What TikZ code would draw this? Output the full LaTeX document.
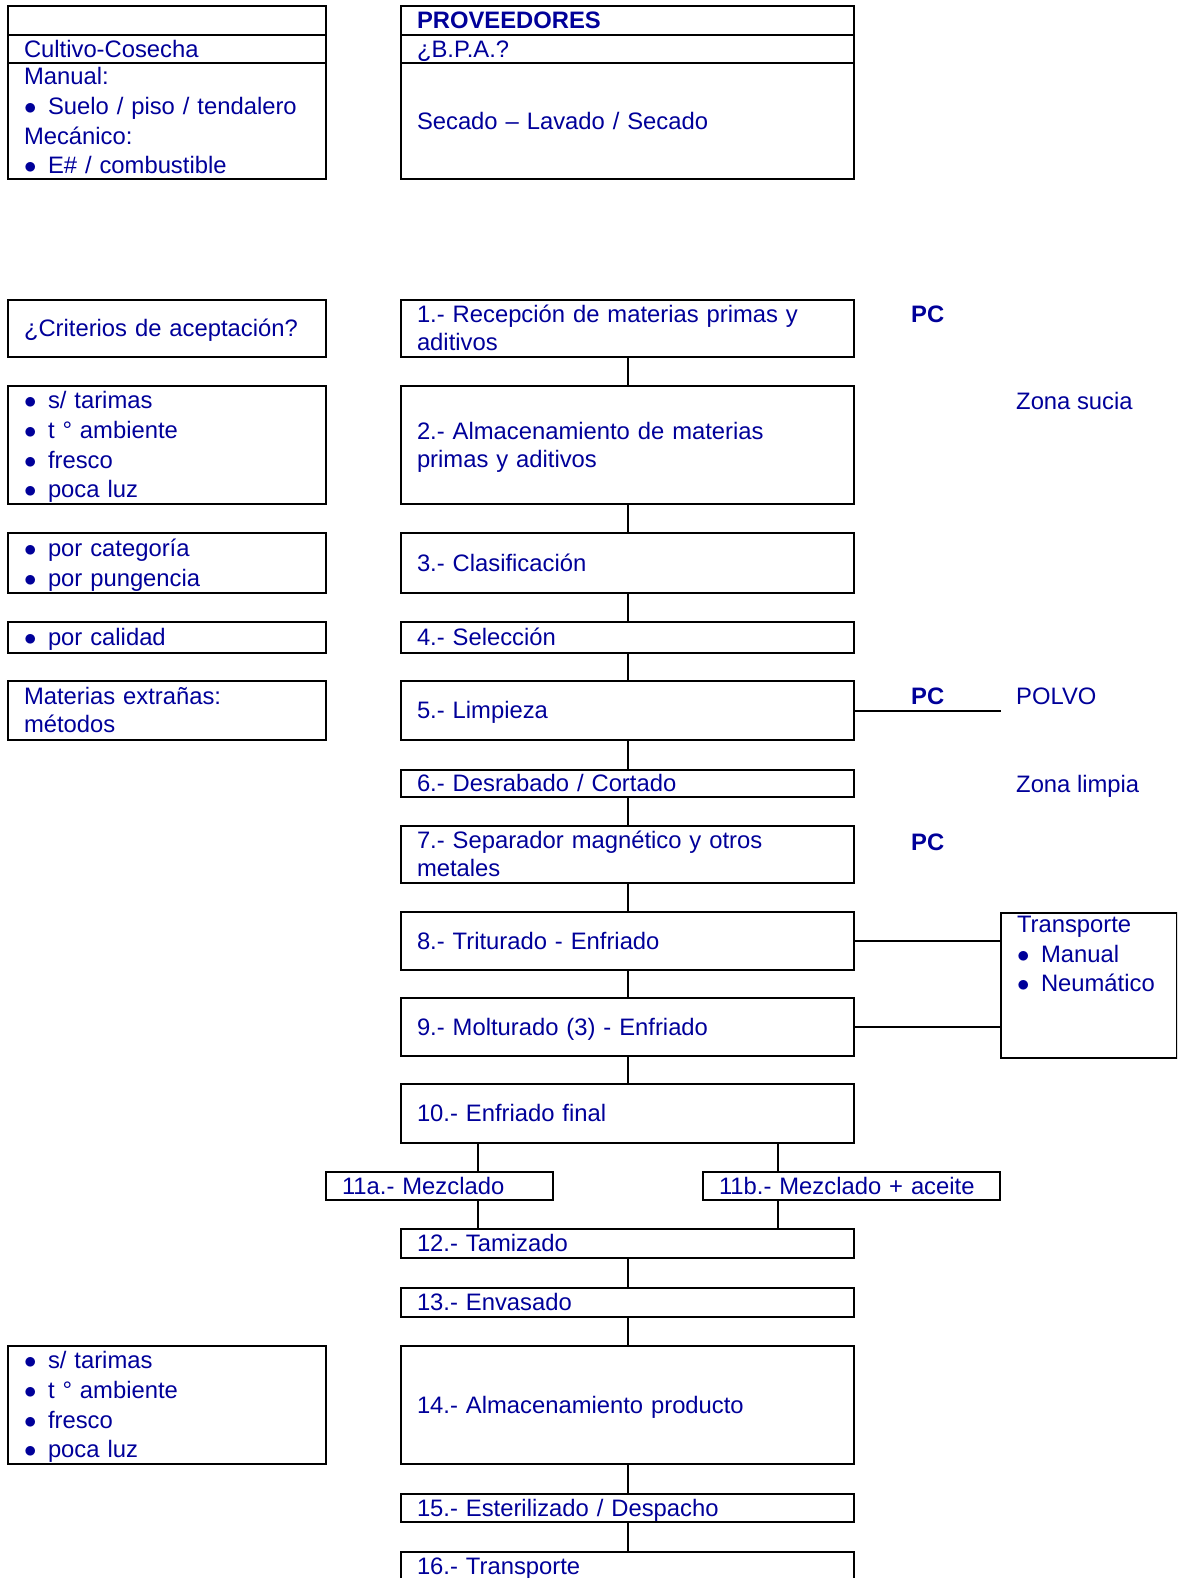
\documentclass[tikz,border=0pt]{standalone}
\usepackage{fontspec}
\setmainfont{Liberation Sans}
\definecolor{flujoazul}{HTML}{000099}
\newcommand{\itm}[1]{\makebox[24pt][l]{$\bullet$}#1}
\newcommand{\linea}{\rule[-5pt]{0pt}{26.5pt}}
\tikzset{
  every node/.style={font=\fontsize{23.8}{28.3}\selectfont, text=flujoazul},
  etapa/.style={draw=black, line width=2pt, inner xsep=16pt, inner ysep=0pt, align=left, text width=421pt,
    execute at begin node=\linea, execute at end node=\linea},
  nota/.style={draw=black, line width=2pt, inner xsep=16pt, inner ysep=0pt, align=left, text width=286pt,
    execute at begin node=\linea, execute at end node=\linea},
  lista/.style={font=\fontsize{23.8}{29.7}\selectfont},
  marca/.style={anchor=base west, inner sep=0pt, font=\fontsize{23.8}{28.3}\selectfont\bfseries},
  zona/.style={anchor=base west, inner sep=0pt},
  enlace/.style={line width=2pt}
}

\begin{document}
\begin{tikzpicture}[x=1pt, y=-1pt]
\useasboundingbox (0,0) rectangle (1177,1578);
\clip (0,0) rectangle (1177,1578);

\node[nota, minimum height=29pt] (cult0) at (167,20.5) {};
\node[nota, minimum height=28pt] (cult1) at (167,49) {Cultivo-Cosecha};
\node[nota, lista, minimum height=116pt] (cult2) at (167,121) {Manual:\\\itm{Suelo / piso / tendalero}\\Mecánico:\\\itm{E\# / combustible}};

\node[etapa, minimum height=29pt, font=\fontsize{23.8}{28.3}\selectfont\bfseries] (prov0) at (627.5,20.5) {PROVEEDORES};
\node[etapa, minimum height=28pt] (prov1) at (627.5,49) {¿B.P.A.?};
\node[etapa, minimum height=116pt] (prov2) at (627.5,121) {Secado – Lavado / Secado};

\node[nota, minimum height=57pt] (n1) at (167,328.5) {¿Criterios de aceptación?};
\node[nota, lista, minimum height=118pt] (n2) at (167,445) {\itm{s/ tarimas}\\\itm{t ° ambiente}\\\itm{fresco}\\\itm{poca luz}};
\node[nota, lista, minimum height=60pt] (n3) at (167,563) {\itm{por categoría}\\\itm{por pungencia}};
\node[nota, minimum height=31pt] (n4) at (167,637.5) {\itm{por calidad}};
\node[nota, minimum height=59pt] (n5) at (167,710.5) {Materias extrañas:\\métodos};
\node[nota, lista, minimum height=118pt] (n14) at (167,1405) {\itm{s/ tarimas}\\\itm{t ° ambiente}\\\itm{fresco}\\\itm{poca luz}};

\node[etapa, minimum height=57pt] (p1) at (627.5,328.5) {1.- Recepción de materias primas y\\aditivos};
\node[etapa, minimum height=118pt] (p2) at (627.5,445) {2.- Almacenamiento de materias\\primas y aditivos};
\node[etapa, minimum height=60pt] (p3) at (627.5,563) {3.- Clasificación};
\node[etapa, minimum height=31pt] (p4) at (627.5,637.5) {4.- Selección};
\node[etapa, minimum height=59pt] (p5) at (627.5,710.5) {5.- Limpieza};
\node[etapa, minimum height=27pt] (p6) at (627.5,783.5) {6.- Desrabado / Cortado};
\node[etapa, minimum height=57pt] (p7) at (627.5,854.5) {7.- Separador magnético y otros\\metales};
\node[etapa, minimum height=58pt] (p8) at (627.5,941) {8.- Triturado - Enfriado};
\node[etapa, minimum height=58pt] (p9) at (627.5,1027) {9.- Molturado (3) - Enfriado};
\node[etapa, minimum height=59pt] (p10) at (627.5,1113.5) {10.- Enfriado final};
\node[etapa, text width=195pt, minimum height=28pt] (p11a) at (439.5,1186) {11a.- Mezclado};
\node[etapa, text width=265pt, minimum height=28pt] (p11b) at (851.5,1186) {11b.- Mezclado + aceite};
\node[etapa, minimum height=29pt] (p12) at (627.5,1243.5) {12.- Tamizado};
\node[etapa, minimum height=29pt] (p13) at (627.5,1302.5) {13.- Envasado};
\node[etapa, minimum height=118pt] (p14) at (627.5,1405) {14.- Almacenamiento producto};
\node[etapa, minimum height=28.5pt] (p15) at (627.5,1508.2) {15.- Esterilizado / Despacho};
\node[etapa, minimum height=28.5pt] (p16) at (627.5,1566) {16.- Transporte};

\node[marca] (pc1) at (911,323) {PC};
\node[zona] (sucia) at (1016,409) {Zona sucia};
\node[marca] (pc5) at (911,704) {PC};
\node[zona] (polvo) at (1016,704) {POLVO};
\node[zona] (limpia) at (1016,792) {Zona limpia};
\node[marca] (pc7) at (911,850) {PC};

\node[draw=black, line width=2pt, anchor=north west, inner xsep=16pt, inner ysep=3pt, lista] (trans) at (1000,912) {\begin{minipage}[t][139pt][t]{144pt}Transporte\\\hspace{2pt}\itm{Manual}\\\hspace{2pt}\itm{Neumático}\end{minipage}};

\foreach \a/\b in {p1/p2,p2/p3,p3/p4,p4/p5,p5/p6,p6/p7,p7/p8,p8/p9,p9/p10,p12/p13,p13/p14,p14/p15,p15/p16}
  \draw[enlace] (\a) -- (\b);

\coordinate (ramaA) at (478,1160);
\coordinate (ramaB) at (778,1160);
\draw[enlace] (p10.south -| ramaA) -- (p11a.north -| ramaA);
\draw[enlace] (p11a.south -| ramaA) -- (p12.north -| ramaA);
\draw[enlace] (p10.south -| ramaB) -- (p11b.north -| ramaB);
\draw[enlace] (p11b.south -| ramaB) -- (p12.north -| ramaB);

\coordinate (polvofin) at (1001,710.5);
\draw[enlace] (p5.east) -- (polvofin);
\draw[enlace] (p8.east) -- (p8.east -| trans.west);
\draw[enlace] (p9.east) -- (p9.east -| trans.west);
\end{tikzpicture}
\end{document}
